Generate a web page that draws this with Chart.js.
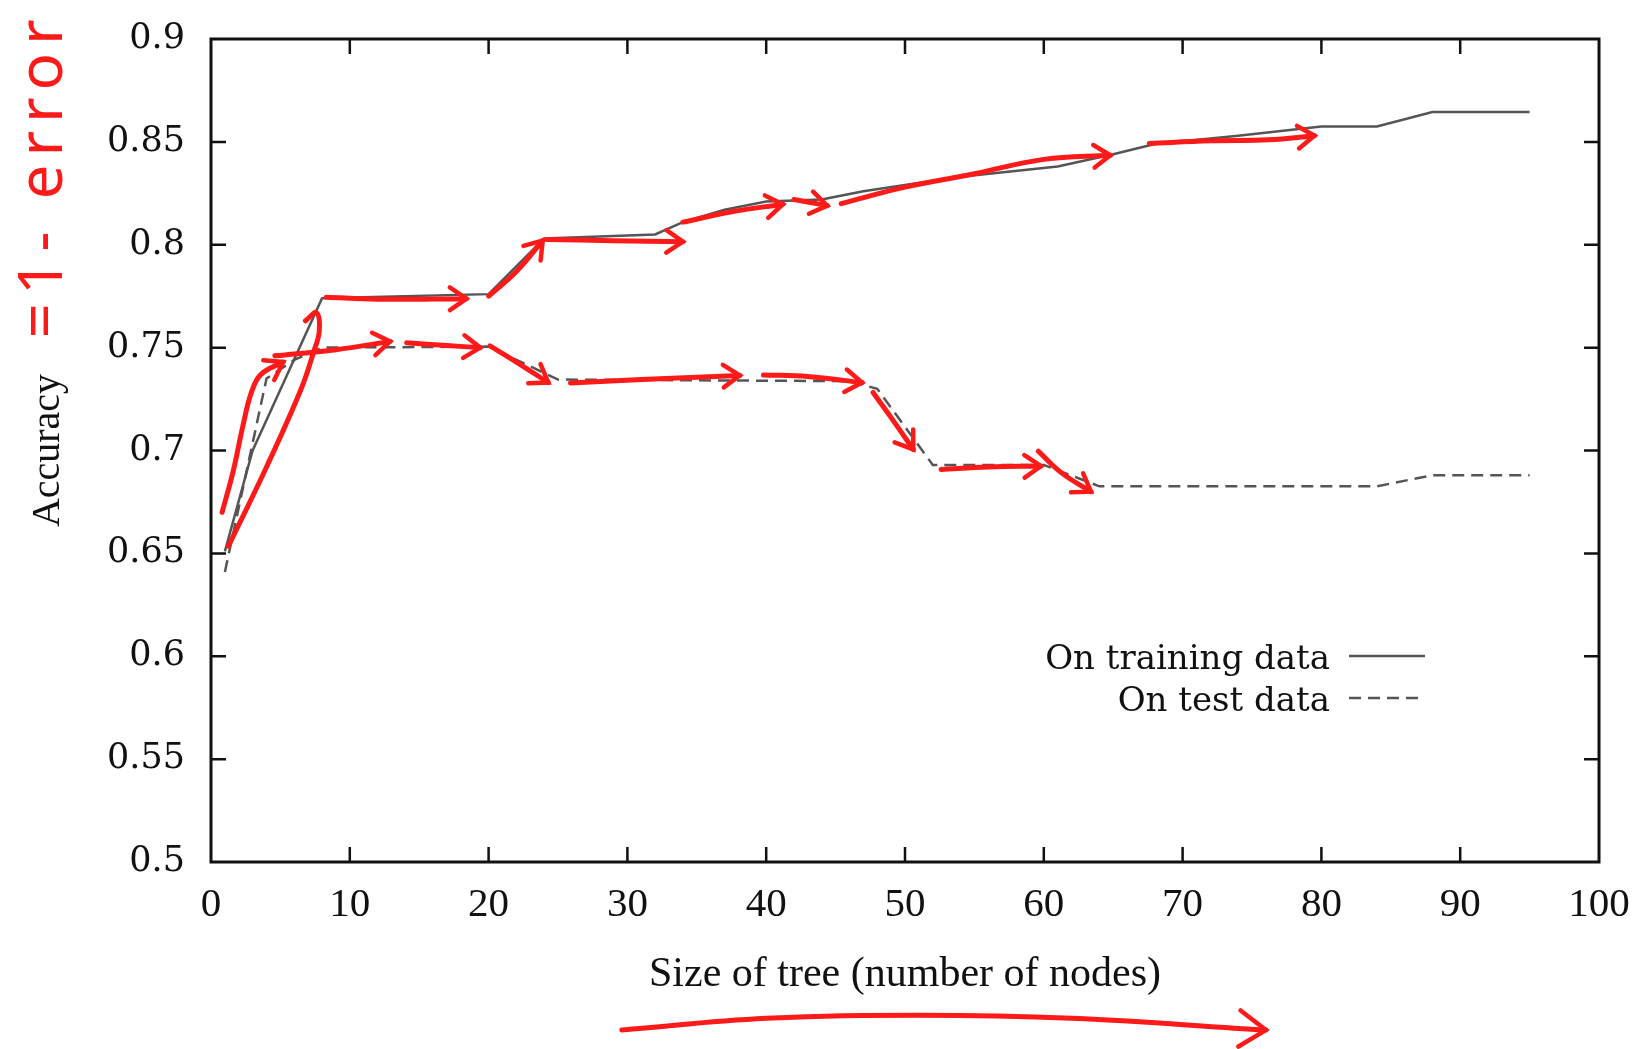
<!DOCTYPE html>
<html>
<head>
<meta charset="utf-8">
<script src="https://cdn.jsdelivr.net/npm/chart.js@4.4.1/dist/chart.umd.min.js"></script>
<style>
  html, body { margin: 0; padding: 0; background: #fff; }
</style>
</head>
<body>
<canvas id="accChart" width="1640" height="1049"></canvas>
<script>
// tree size (nodes) vs accuracy
const trainLabel = "On training data";
const trainSize = [1, 3, 8, 20, 24, 32, 34, 37, 40, 44, 47, 50, 54, 61, 65, 68, 74, 80, 84, 88, 95];
const trainAcc = [0.651, 0.700, 0.774, 0.776, 0.803, 0.805, 0.811, 0.817, 0.821, 0.822, 0.826, 0.829, 0.833, 0.838, 0.844, 0.849, 0.853, 0.8575, 0.8575, 0.8645, 0.8645];

const testLabel = "On test data";
const testSize = [1, 4, 6, 8, 20, 25, 46, 48, 52, 60, 64, 84, 88, 95];
const testAcc = [0.641, 0.735, 0.744, 0.750, 0.7505, 0.7345, 0.7337, 0.730, 0.693, 0.693, 0.6826, 0.6826, 0.688, 0.688];

const xTicks = [0, 10, 20, 30, 40, 50, 60, 70, 80, 90, 100];
const yTicks = [0.5, 0.55, 0.6, 0.65, 0.7, 0.75, 0.8, 0.85, 0.9];

const xTitle = "Size of tree (number of nodes)";
const yTitle = "Accuracy";

// red hand-drawn notes on top of the plot, in data units [size, accuracy]
const noteText = "=1- error";
const redNotes = [
  { pts: [[1.25, 0.6535], [4, 0.692], [6.5, 0.73], [7.4, 0.748], [7.8, 0.758], [7.6, 0.767], [6.8, 0.763]], arrow: false },
  { pts: [[0.8, 0.670], [1.6, 0.69], [2.3, 0.712], [2.9, 0.728], [3.6, 0.737], [5.2, 0.743]], arrow: true },
  { pts: [[4.6, 0.746], [9, 0.749], [12.9, 0.753]], arrow: true },
  { pts: [[8.3, 0.7745], [12, 0.7735], [18.4, 0.7738]], arrow: true },
  { pts: [[20, 0.775], [22, 0.787], [23.9, 0.802]], arrow: true },
  { pts: [[24.2, 0.8025], [29, 0.802], [34, 0.8015]], arrow: true },
  { pts: [[34, 0.811], [37.5, 0.816], [41.2, 0.8197]], arrow: true },
  { pts: [[42, 0.822], [44.4, 0.819]], arrow: true },
  { pts: [[45.4, 0.820], [50, 0.828], [55, 0.8345], [60, 0.8415], [64.8, 0.8435]], arrow: true },
  { pts: [[67.6, 0.8492], [72, 0.8505], [76.2, 0.851], [79.5, 0.853]], arrow: true },
  { pts: [[14.1, 0.7524], [17, 0.751], [19.4, 0.750]], arrow: true },
  { pts: [[20.1, 0.7508], [22, 0.743], [24.3, 0.733]], arrow: true },
  { pts: [[25.9, 0.7328], [31, 0.7345], [38.1, 0.7365]], arrow: true },
  { pts: [[39.8, 0.7367], [43, 0.736], [46.9, 0.733]], arrow: true },
  { pts: [[47.7, 0.7282], [49, 0.716], [50.6, 0.7005]], arrow: true },
  { pts: [[52.6, 0.6908], [56, 0.692], [59.8, 0.6924]], arrow: true },
  { pts: [[59.6, 0.6997], [61.3, 0.689], [63.4, 0.680]], arrow: true },
];
// the long arrow under the x axis title
const axisArrow = [[29.6, 0.4183], [40, 0.424], [51, 0.4255], [62, 0.424], [76, 0.4183]];

const TICK = 15;
const RED = "#ff1a1a";

function toPoints(xs, ys) {
  return xs.map((x, i) => ({ x: x, y: ys[i] }));
}

// gnuplot style box with inward ticks on all four sides
const frameBox = {
  id: "frameBox",
  beforeDatasetsDraw(chart) {
    const { ctx, chartArea: a, scales } = chart;
    ctx.save();
    ctx.strokeStyle = "#111";
    ctx.lineWidth = 3;
    ctx.strokeRect(a.left, a.top, a.right - a.left, a.bottom - a.top);
    ctx.lineWidth = 2.5;
    ctx.beginPath();
    xTicks.forEach((v) => {
      const px = scales.x.getPixelForValue(v);
      if (px <= a.left + 1 || px >= a.right - 1) return;
      ctx.moveTo(px, a.bottom);
      ctx.lineTo(px, a.bottom - TICK);
      ctx.moveTo(px, a.top);
      ctx.lineTo(px, a.top + TICK);
    });
    yTicks.forEach((v) => {
      const py = scales.y.getPixelForValue(v);
      if (py <= a.top + 1 || py >= a.bottom - 1) return;
      ctx.moveTo(a.left, py);
      ctx.lineTo(a.left + TICK, py);
      ctx.moveTo(a.right, py);
      ctx.lineTo(a.right - TICK, py);
    });
    ctx.stroke();
    ctx.restore();
  },
};

// arrow heads at the end of the red strokes
const arrowHeads = {
  id: "arrowHeads",
  afterDatasetsDraw(chart) {
    const ctx = chart.ctx;
    chart.data.datasets.forEach((ds, i) => {
      if (!ds.arrow) return;
      const pts = chart.getDatasetMeta(i).data;
      const p = pts[pts.length - 1];
      const q = pts[pts.length - 2];
      const ang = Math.atan2(p.y - q.y, p.x - q.x);
      const len = ds.headLen || 20;
      ctx.save();
      ctx.strokeStyle = RED;
      ctx.lineWidth = 4.5;
      ctx.lineCap = "round";
      ctx.beginPath();
      ctx.moveTo(p.x - len * Math.cos(ang - 0.6), p.y - len * Math.sin(ang - 0.6));
      ctx.lineTo(p.x, p.y);
      ctx.lineTo(p.x - len * Math.cos(ang + 0.6), p.y - len * Math.sin(ang + 0.6));
      ctx.stroke();
      ctx.restore();
    });
  },
};

// legend inside the plot, bottom right, text right aligned with sample after it
const keyBox = {
  id: "keyBox",
  afterDraw(chart) {
    const ctx = chart.ctx;
    const rows = [
      { label: trainLabel, dash: [], y: 669 },
      { label: testLabel, dash: [12, 7], y: 711 },
    ];
    ctx.save();
    ctx.font = '34px "DejaVu Serif"';
    ctx.fillStyle = "#111";
    ctx.textAlign = "right";
    ctx.textBaseline = "alphabetic";
    rows.forEach((r) => {
      ctx.fillText(r.label, 1330, r.y);
      ctx.strokeStyle = "#555";
      ctx.lineWidth = 2.5;
      ctx.setLineDash(r.dash);
      ctx.beginPath();
      ctx.moveTo(1349, r.y - 13);
      ctx.lineTo(1425, r.y - 13);
      ctx.stroke();
      ctx.setLineDash([]);
    });

    // handwritten note next to the y axis title
    ctx.translate(44, 175);
    ctx.rotate(-Math.PI / 2);
    ctx.font = '62px "Noto Sans"';
    ctx.letterSpacing = "8px";
    ctx.fillStyle = RED;
    ctx.textAlign = "center";
    ctx.textBaseline = "middle";
    ctx.fillText(noteText, 0, 0);
    ctx.restore();
  },
};

const datasets = [
  {
    label: trainLabel,
    data: toPoints(trainSize, trainAcc),
    borderColor: "#555",
    borderWidth: 2.5,
    pointRadius: 0,
    tension: 0,
    order: 5,
  },
  {
    label: testLabel,
    data: toPoints(testSize, testAcc),
    borderColor: "#555",
    borderWidth: 2.5,
    borderDash: [12, 7],
    pointRadius: 0,
    tension: 0,
    order: 5,
  },
];

redNotes.forEach((n, i) => {
  datasets.push({
    label: "note " + (i + 1),
    data: n.pts.map((p) => ({ x: p[0], y: p[1] })),
    borderColor: RED,
    borderWidth: 5,
    borderCapStyle: "round",
    borderJoinStyle: "round",
    pointRadius: 0,
    tension: 0.4,
    clip: false,
    arrow: n.arrow,
    order: 0,
  });
});

datasets.push({
  label: "axis note",
  data: axisArrow.map((p) => ({ x: p[0], y: p[1] })),
  borderColor: RED,
  borderWidth: 5,
  borderCapStyle: "round",
  pointRadius: 0,
  tension: 0.4,
  clip: false,
  arrow: true,
  headLen: 32,
  order: 0,
});

new Chart(document.getElementById("accChart"), {
  type: "line",
  data: { datasets: datasets },
  plugins: [frameBox, arrowHeads, keyBox],
  options: {
    responsive: false,
    devicePixelRatio: 1,
    animation: false,
    events: [],
    layout: {
      padding: { top: 34, right: 41, left: 0, bottom: 0 },
    },
    plugins: {
      legend: { display: false },
      tooltip: { enabled: false },
    },
    scales: {
      x: {
        type: "linear",
        min: 0,
        max: 100,
        afterBuildTicks: (s) => {
          s.ticks = xTicks.map((v) => ({ value: v }));
        },
        afterFit: (s) => {
          s.height = 187;
          s.paddingLeft = 0;
          s.paddingRight = 0;
        },
        grid: { display: false },
        border: { display: false },
        ticks: {
          color: "#111",
          padding: 11,
          font: { family: "Liberation Serif", size: 41 },
        },
        title: {
          display: true,
          text: xTitle,
          color: "#111",
          font: { family: "Liberation Serif", size: 42 },
          padding: { top: 0, bottom: 49 },
        },
      },
      y: {
        type: "linear",
        min: 0.5,
        max: 0.9,
        afterBuildTicks: (s) => {
          s.ticks = yTicks.map((v) => ({ value: v }));
        },
        afterFit: (s) => {
          s.width = 211;
        },
        grid: { display: false },
        border: { display: false },
        ticks: {
          color: "#111",
          padding: 18,
          font: { family: "DejaVu Serif", size: 35 },
          callback: (v) => String(+Number(v).toFixed(2)),
        },
        title: {
          display: true,
          text: yTitle,
          color: "#111",
          font: { family: "Liberation Serif", size: 40 },
          padding: { top: 24, bottom: 0 },
        },
      },
    },
  },
});
</script>
</body>
</html>
